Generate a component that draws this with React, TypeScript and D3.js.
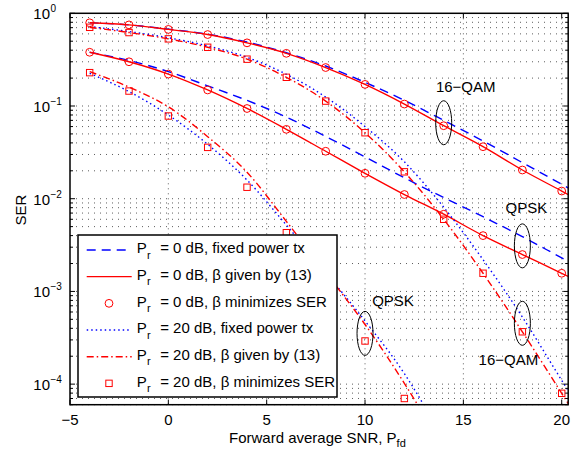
import React from "react";
import * as d3 from "d3";

// ---------- data ----------
const snrLine = [-4, -2, 0, 2, 4, 6, 8, 10, 12, 14, 16, 18, 20, 21];
const snrMark = [-4, -2, 0, 2, 4, 6, 8, 10, 12, 14, 16, 18, 20];

// Pr = 0 dB
const qam16Pr0Fixed = [0.79, 0.75, 0.675, 0.595, 0.49, 0.375, 0.27, 0.18, 0.115, 0.07, 0.042, 0.0245, 0.0143, 0.0109];
const qam16Pr0Beta = [0.79, 0.75, 0.67, 0.59, 0.48, 0.37, 0.26, 0.171, 0.105, 0.0613, 0.0364, 0.0204, 0.0121, 0.0093];
const qam16Pr0Opt = [0.79, 0.75, 0.67, 0.59, 0.48, 0.37, 0.26, 0.171, 0.105, 0.0613, 0.0364, 0.0204, 0.0121];
const qpskPr0Fixed = [0.38, 0.31, 0.235, 0.165, 0.115, 0.076, 0.047, 0.0283, 0.0168, 0.0103, 0.0064, 0.0039, 0.0023, 0.00177];
const qpskPr0Beta = [0.38, 0.30, 0.221, 0.149, 0.094, 0.056, 0.0325, 0.0188, 0.0111, 0.0068, 0.004, 0.0025, 0.00157, 0.00124];
const qpskPr0Opt = [0.38, 0.30, 0.221, 0.149, 0.094, 0.056, 0.0325, 0.0188, 0.0111, 0.0068, 0.004, 0.0025, 0.00157];

// Pr = 20 dB
const qam16Pr20Fixed = [0.72, 0.635, 0.545, 0.445, 0.335, 0.22, 0.125, 0.06, 0.025, 0.0081, 0.0022, 5.3e-4, 1.1e-4, 5.1e-5];
const qam16Pr20Beta = [0.706, 0.62, 0.53, 0.43, 0.32, 0.204, 0.113, 0.0515, 0.0195, 0.006, 0.00157, 3.67e-4, 7.96e-5, 3.7e-5];
const qam16Pr20Opt = [0.706, 0.62, 0.53, 0.43, 0.32, 0.204, 0.113, 0.0515, 0.0195, 0.006, 0.00157, 3.67e-4, 7.96e-5];
const snrQpsk20 = [-4, -2, 0, 2, 4, 6, 8, 10, 12, 14];
const qpskPr20Fixed = [0.225, 0.143, 0.08, 0.0386, 0.0159, 0.0052, 0.0016, 4.8e-4, 1.3e-4, 2.5e-5];
const qpskPr20Beta = [0.235, 0.16, 0.098, 0.0467, 0.0193, 0.0057, 0.0016, 4.4e-4, 1.02e-4, 2.0e-5];
const snrQpsk20Mark = [-4, -2, 0, 2, 4, 6, 8, 10, 12];
const qpskPr20Opt = [0.229, 0.145, 0.078, 0.0358, 0.0133, 0.0043, 0.0011, 2.92e-4, 7.0e-5];

const xTicks = [-5, 0, 5, 10, 15, 20];
const yMajor = [1e-4, 1e-3, 1e-2, 1e-1, 1];
const yMajorExp = ["−4", "−3", "−2", "−1", "0"];

const legendLabels = [
  " = 0 dB, fixed power tx",
  " = 0 dB, β given by (13)",
  " = 0 dB, β minimizes SER",
  " = 20 dB, fixed power tx",
  " = 20 dB, β given by (13)",
  " = 20 dB, β minimizes SER",
];

const annotations = [
  { label: "16−QAM", x: 14, y: 0.066, dx: 22, dy: -31 },
  { label: "QPSK", x: 18, y: 0.0031, dx: 4, dy: -32.5 },
  { label: "QPSK", x: 10, y: 3.53e-4, dx: 28, dy: -27 },
  { label: "16−QAM", x: 18, y: 4.53e-4, dx: -14, dy: 42 },
];

// ---------- layout ----------
const W = 586, H = 456;
const L = 70, R = 568.2, T = 13.3, B = 404.7;
const FONT = "'Liberation Sans', Arial, Helvetica, sans-serif";
const RED = "#ff0000", BLUE = "#0000ff";

const x = d3.scaleLinear().domain([-5, 20.33]).range([L, R]);
const y = d3.scaleLog().domain([6e-5, 1]).range([B, T]);

function linePath(xs: number[], vs: number[]) {
  const g = d3
    .line<number>()
    .x((_, i) => x(xs[i]))
    .y((v) => y(v))
    .curve(d3.curveMonotoneX);
  return g(vs) || "";
}

const styles = {
  dashed: { stroke: BLUE, dash: "9,6" },
  solid: { stroke: RED, dash: "none" },
  dotted: { stroke: BLUE, dash: "1.5,3" },
  dashdot: { stroke: RED, dash: "7,3,1.5,3" },
};

export default function App() {
  const yMinor: number[] = [];
  for (let k = -5; k <= -1; k++) {
    for (let m = 2; m <= 9; m++) {
      const v = m * Math.pow(10, k);
      if (v > 6e-5 && v < 1) yMinor.push(v);
    }
  }
  const yGrid = [...yMinor, ...yMajor.filter((v) => v < 1)];

  const circle = (cx: number, cy: number, key: string) => (
    <circle key={key} cx={cx} cy={cy} r={3.9} fill="none" stroke={RED} strokeWidth={1} />
  );
  const square = (cx: number, cy: number, key: string) => (
    <rect key={key} x={cx - 3.2} y={cy - 3.2} width={6.4} height={6.4} fill="none" stroke={RED} strokeWidth={1} />
  );

  const lx = 78, ly = 235, lw = 259, lh = 162;
  const rowH = 26.67;

  return (
    <svg width={W} height={H} style={{ position: "absolute", left: 0, top: 0, background: "#fff" }} fontFamily={FONT}>
      <defs>
        <clipPath id="plotClip">
          <rect x={L} y={T} width={R - L} height={B - T} />
        </clipPath>
      </defs>
      <rect x={0} y={0} width={W} height={H} fill="#fff" />

      {/* grid */}
      <g stroke="#333" strokeWidth={0.8} fill="none">
        {yGrid.map((v, i) => (
          <line key={"hg" + i} x1={L} x2={R} y1={y(v)} y2={y(v)} strokeDasharray="1,5" />
        ))}
        {xTicks.filter((t) => t > -5).map((t) => (
          <line key={"vg" + t} x1={x(t)} x2={x(t)} y1={T} y2={B} strokeDasharray="1,4" />
        ))}
      </g>

      {/* curves */}
      <g clipPath="url(#plotClip)" fill="none" strokeWidth={1.4}>
        <path d={linePath(snrLine, qam16Pr0Fixed)} stroke={styles.dashed.stroke} strokeDasharray={styles.dashed.dash} />
        <path d={linePath(snrLine, qpskPr0Fixed)} stroke={styles.dashed.stroke} strokeDasharray={styles.dashed.dash} />
        <path d={linePath(snrLine, qam16Pr0Beta)} stroke={styles.solid.stroke} />
        <path d={linePath(snrLine, qpskPr0Beta)} stroke={styles.solid.stroke} />
        <path d={linePath(snrLine, qam16Pr20Fixed)} stroke={styles.dotted.stroke} strokeDasharray={styles.dotted.dash} />
        <path d={linePath(snrQpsk20, qpskPr20Fixed)} stroke={styles.dotted.stroke} strokeDasharray={styles.dotted.dash} />
        <path d={linePath(snrLine, qam16Pr20Beta)} stroke={styles.dashdot.stroke} strokeDasharray={styles.dashdot.dash} />
        <path d={linePath(snrQpsk20, qpskPr20Beta)} stroke={styles.dashdot.stroke} strokeDasharray={styles.dashdot.dash} />
        {qam16Pr0Opt.map((v, i) => circle(x(snrMark[i]), y(v), "c16" + i))}
        {qpskPr0Opt.map((v, i) => circle(x(snrMark[i]), y(v), "cq" + i))}
        {qam16Pr20Opt.map((v, i) => square(x(snrMark[i]), y(v), "s16" + i))}
        {qpskPr20Opt.map((v, i) => square(x(snrQpsk20Mark[i]), y(v), "sq" + i))}
      </g>

      {/* annotations */}
      {annotations.map((a, i) => {
        const cx = x(a.x), cy = y(a.y);
        return (
          <g key={"an" + i}>
            <ellipse cx={cx} cy={cy} rx={8} ry={22} fill="none" stroke="#000" strokeWidth={1} />
            <text x={cx + a.dx} y={cy + a.dy} textAnchor="middle" fontSize={15} fill="#000">
              {a.label}
            </text>
          </g>
        );
      })}

      {/* ticks */}
      <g stroke="#000" strokeWidth={1}>
        {xTicks.map((t) => (
          <g key={"xt" + t}>
            <line x1={x(t)} x2={x(t)} y1={B} y2={B - 5} />
            <line x1={x(t)} x2={x(t)} y1={T} y2={T + 5} />
          </g>
        ))}
        {yMajor.map((v, i) => (
          <g key={"ytM" + i}>
            <line x1={L} x2={L + 5} y1={y(v)} y2={y(v)} />
            <line x1={R} x2={R - 5} y1={y(v)} y2={y(v)} />
          </g>
        ))}
        {yMinor.map((v, i) => (
          <g key={"ytm" + i}>
            <line x1={L} x2={L + 3} y1={y(v)} y2={y(v)} />
            <line x1={R} x2={R - 3} y1={y(v)} y2={y(v)} />
          </g>
        ))}
      </g>

      {/* frame */}
      <rect x={L} y={T} width={R - L} height={B - T} fill="none" stroke="#000" strokeWidth={1.5} />

      {/* tick labels */}
      {xTicks.map((t) => (
        <text key={"xl" + t} x={x(t)} y={425} textAnchor="middle" fontSize={15} fill="#000">
          {t < 0 ? "−" + Math.abs(t) : String(t)}
        </text>
      ))}
      {yMajor.map((v, i) => (
        <g key={"yl" + i}>
          <text x={50} y={y(v) + 6} textAnchor="end" fontSize={15} fill="#000">10</text>
          <text x={50.5} y={y(v) - 1} fontSize={10} fill="#000">{yMajorExp[i]}</text>
        </g>
      ))}

      {/* axis titles */}
      <text x={229} y={443} fontSize={15} fill="#000">
        Forward average SNR, P
        <tspan fontSize={11} dy={4}>fd</tspan>
      </text>
      <text transform={`translate(26,210) rotate(-90)`} textAnchor="middle" fontSize={15} fill="#000">SER</text>

      {/* legend */}
      <g>
        <rect x={lx} y={ly} width={lw} height={lh} fill="#fff" stroke="#000" strokeWidth={1.5} />
        {legendLabels.map((lab, i) => {
          const cy = 250 + rowH * i;
          const sx1 = 86.7, sx2 = 131.7, mx = 109;
          let sample: React.ReactNode = null;
          if (i === 0) sample = <line x1={sx1} x2={sx2} y1={cy} y2={cy} stroke={BLUE} strokeWidth={1.4} strokeDasharray="9,6" />;
          if (i === 1) sample = <line x1={sx1} x2={sx2} y1={cy} y2={cy} stroke={RED} strokeWidth={1.4} />;
          if (i === 2) sample = circle(mx, cy, "lc");
          if (i === 3) sample = <line x1={sx1} x2={sx2} y1={cy} y2={cy} stroke={BLUE} strokeWidth={1.4} strokeDasharray="1.5,3" />;
          if (i === 4) sample = <line x1={sx1} x2={sx2} y1={cy} y2={cy} stroke={RED} strokeWidth={1.4} strokeDasharray="7,3,1.5,3" />;
          if (i === 5) sample = square(mx, cy, "ls");
          return (
            <g key={"lg" + i}>
              {sample}
              <text x={136.7} y={cy + 3.3} fontSize={15} fill="#000">P</text>
              <text x={147} y={cy + 8.5} fontSize={11} fill="#000">r</text>
              <text x={156} y={cy + 3.3} fontSize={15} fill="#000" style={{ whiteSpace: "pre" }}>{lab}</text>
            </g>
          );
        })}
      </g>
    </svg>
  );
}
